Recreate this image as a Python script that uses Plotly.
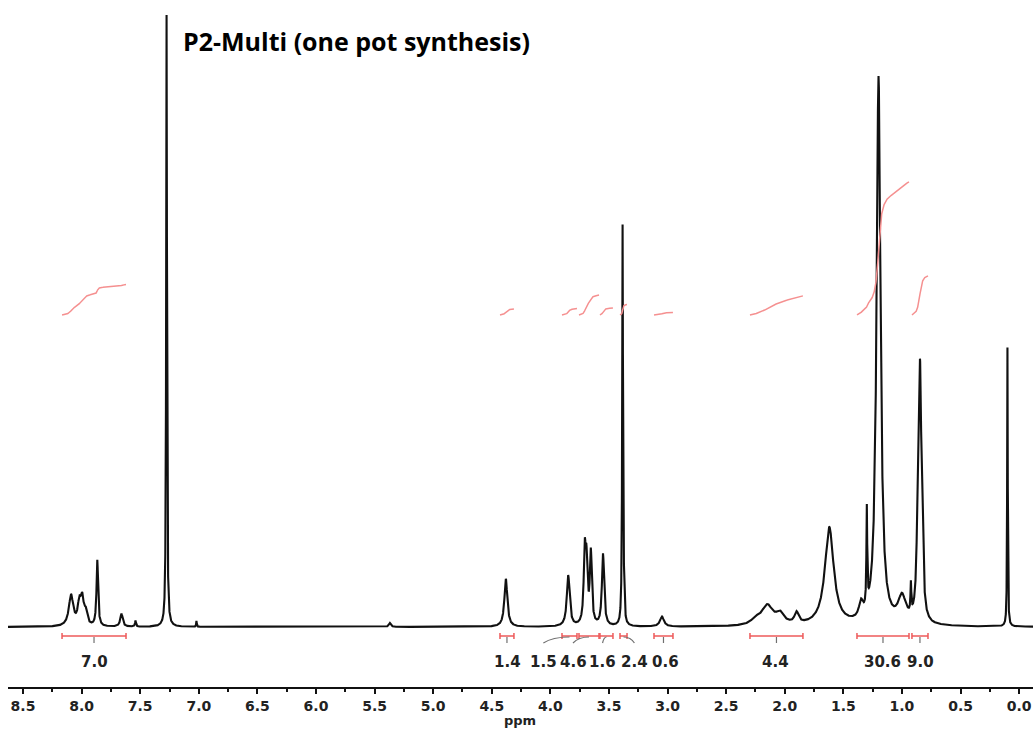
import numpy as np
import plotly.graph_objects as go

# --- 1H NMR peak list: position (ppm), line amplitude, half width at half max (ppm)
peak_ppm = [8.090, 8.020, 7.995, 7.965, 7.866, 7.660, 7.540, 7.275, 7.020, 5.370,
            4.380, 3.848, 3.707, 3.692, 3.655, 3.551, 3.384, 3.372, 3.048,
            2.250, 2.150, 2.040, 1.900, 1.620, 1.350, 1.300, 1.200, 1.000,
            0.924, 0.862, 0.846, 0.830, 0.100]
peak_height = [31, 20, 25, 12, 66, 13, 6, 612, 6, 4,
               48, 51, 68, 55, 72, 72, 400, 20, 10,
               5, 20, 10, 11, 98, 15, 97, 548, 26,
               29, 120, 200, 80, 279]
peak_hwhm = [0.022, 0.016, 0.016, 0.014, 0.008, 0.012, 0.005, 0.004, 0.003, 0.010,
             0.015, 0.014, 0.010, 0.010, 0.010, 0.011, 0.004, 0.004, 0.020,
             0.040, 0.060, 0.040, 0.020, 0.045, 0.020, 0.004, 0.020, 0.040,
             0.004, 0.011, 0.011, 0.011, 0.003]

# --- integration regions (ppm from, ppm to) and integral values
int_from = [8.167, 4.430, 3.901, 3.756, 3.577, 3.406, 3.116, 2.297, 1.384, 0.915]
int_to = [7.621, 4.311, 3.773, 3.585, 3.466, 3.346, 2.954, 1.845, 0.940, 0.778]
int_value = [7.0, 1.4, 1.5, 4.6, 1.6, 2.4, 0.6, 4.4, 30.6, 9.0]
int_label_ppm = [7.894, 4.370, 4.060, 3.807, 3.555, 3.283, 3.022, 2.075, 1.170, 0.845]

TICKS = [8.5, 8.0, 7.5, 7.0, 6.5, 6.0, 5.5, 5.0, 4.5, 4.0, 3.5, 3.0, 2.5, 2.0, 1.5, 1.0, 0.5, 0.0]

# --- spectrum as a sum of Lorentzian lines
x_lo, x_hi = -0.118, 8.628
ppm = np.linspace(x_hi, x_lo, 26000)
pos = np.array(peak_ppm)[:, None]
amp = np.array(peak_height)[:, None]
gam = np.array(peak_hwhm)[:, None]
spec = (amp * gam**2 / ((ppm[None, :] - pos) ** 2 + gam**2)).sum(axis=0)

BLACK = "#111111"
RED_BAR = "#ee5a5a"
RED_INT = "#f59090"
GREY = "#707070"

fig = go.Figure()
fig.add_trace(go.Scatter(x=ppm, y=spec, mode="lines",
                         line=dict(color=BLACK, width=2.1), hoverinfo="skip"))

# integral curves: cumulative area in each region, scaled to the reported value
INT_BASE = 312.0
INT_SCALE = 4.35
for a, b, v in zip(int_from, int_to, int_value):
    m = (ppm <= a) & (ppm >= b)
    xs = ppm[m]
    cum = np.cumsum(spec[m])
    cum = cum / cum[-1]
    fig.add_trace(go.Scatter(x=xs, y=INT_BASE + v * INT_SCALE * cum, mode="lines",
                             line=dict(color=RED_INT, width=1.5), hoverinfo="skip"))

shapes = []
annotations = []
BAR_Y = -9
for a, b, v, lx in zip(int_from, int_to, int_value, int_label_ppm):
    shapes.append(dict(type="line", x0=a, x1=b, y0=BAR_Y, y1=BAR_Y,
                       line=dict(color=RED_BAR, width=1.5)))
    for e in (a, b):
        shapes.append(dict(type="line", x0=e, x1=e, y0=BAR_Y - 3, y1=BAR_Y + 3,
                           line=dict(color=RED_BAR, width=1.5)))
    xc = (a + b) / 2
    if abs(xc - lx) < 0.03:
        shapes.append(dict(type="line", x0=xc, x1=xc, y0=BAR_Y - 1, y1=BAR_Y - 7,
                           line=dict(color=GREY, width=1.2)))
    else:
        cx = lx + (xc - lx) * 0.35
        shapes.append(dict(type="path",
                           path=f"M {xc},{BAR_Y - 1} Q {cx},{BAR_Y - 1} {lx},{BAR_Y - 7}",
                           line=dict(color=GREY, width=1.2)))
    annotations.append(dict(x=lx, y=-35, xref="x", yref="y", text=f"{v:.1f}",
                            showarrow=False, xanchor="center", yanchor="middle",
                            font=dict(family="DejaVu Sans", size=15, color="#222222",
                                      weight="bold")))

annotations.append(dict(x=(181 - 8) / 1025, y=1 - 41 / 687, xref="paper", yref="paper",
                        text="P2-Multi (one pot synthesis)", showarrow=False,
                        xanchor="left", yanchor="middle",
                        font=dict(family="Open Sans", size=25, color="#000000", weight="bold")))
annotations.append(dict(x=(520 - 8) / 1025, y=(687 - 720) / 687, xref="paper", yref="paper",
                        text="ppm", showarrow=False, xanchor="center", yanchor="middle",
                        font=dict(family="DejaVu Sans", size=13, color="#222222",
                                  weight="bold")))

fig.update_layout(
    width=1033, height=731,
    margin=dict(l=8, r=0, t=0, b=44),
    paper_bgcolor="white", plot_bgcolor="white",
    showlegend=False,
    shapes=shapes, annotations=annotations,
    xaxis=dict(range=[x_hi, x_lo], tickmode="array", tickvals=TICKS,
               ticktext=[f"{t:.1f}" for t in TICKS],
               showgrid=False, zeroline=False, showline=True,
               linecolor=BLACK, linewidth=2, ticks="outside", ticklen=5,
               tickwidth=2, tickcolor=BLACK,
               minor=dict(tickvals=[t - 0.25 for t in TICKS] + [8.75], ticks="outside",
                          ticklen=3, tickwidth=2, tickcolor=BLACK),
               tickfont=dict(family="DejaVu Sans", size=14, color="#222222", weight="bold")),
    yaxis=dict(range=[-60, 627], visible=False, showgrid=False, zeroline=False),
)

fig.write_html("out.html", config={"displayModeBar": False})
